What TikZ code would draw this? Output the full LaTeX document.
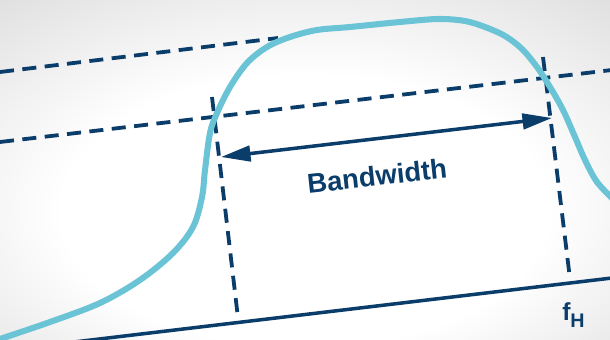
\documentclass[tikz,border=0pt]{standalone}
\usepackage{fontspec}
\setmainfont{Liberation Sans}
\usepackage{tikz}
\usetikzlibrary{arrows.meta,positioning,shapes}
\usepackage{xcolor}

\definecolor{navy}{HTML}{0B3D6B}
\definecolor{passband}{HTML}{6BC4D6}
\pgfdeclareradialshading{vignette}{\pgfpoint{0bp}{-8bp}}{color(0bp)=(white); color(20bp)=(white); color(46bp)=(black!17); color(60bp)=(black!24); color(80bp)=(black!32)}

\begin{document}
\begin{tikzpicture}[x=0.025cm, y=-0.025cm,
  every node/.style={inner sep=0pt, text=navy, font=\bfseries},
  guide/.style={navy, line width=2.7pt, dash pattern=on 10pt off 6pt},
  axis/.style={navy, line width=2.5pt},
  span/.style={navy, line width=2.5pt, {Triangle[length=21pt,width=11pt]}-{Triangle[length=21pt,width=11pt]}},
  response/.style={passband, line width=4.3pt, line cap=round}]
  \useasboundingbox (0,0) rectangle (610,340);
  \shade[shading=vignette] (0,0) rectangle (610,340);
  \clip (0,0) rectangle (610,340);

  % guide lines
  \coordinate (u1) at (0,72);
  \coordinate (u2) at (278,38);
  \coordinate (m1) at (0,142);
  \coordinate (m2) at (612,70);
  \coordinate (lt) at (212,97);
  \coordinate (lb) at (238,318);
  \coordinate (rt) at (543,57);
  \coordinate (rb) at (570,279);
  \coordinate (a1) at (74,342);
  \coordinate (a2) at (612,278);
  \coordinate (bl) at (221,157);
  \coordinate (br) at (552,118);

  \draw[guide] (u1) -- (u2);
  \draw[guide] (m1) -- (m2);
  \draw[guide] (lt) -- (lb);
  \draw[guide] (rt) -- (rb);
  \draw[axis] (a1) -- (a2);

  % response curve
  \draw[response] plot[smooth, tension=0.55] coordinates {
    (-6,341) (0,339) (50,322) (100,303) (140,280) (173,253) (193,227) (202,197)
    (205,170) (210,133) (217,113) (230,87) (247,63) (267,47) (290,37) (317,30)
    (350,27) (400,22) (438,19) (465,21) (485,27) (505,36) (522,49) (537,67)
    (550,87) (563,110) (575,137) (585,160) (597,182) (614,200)};

  \draw[span] (bl) -- (br);

  \node[rotate=6.2, font=\fontsize{19.5}{23}\selectfont\bfseries] (bw) at (377,176) {Bandwidth};
  \node[anchor=base west, font=\fontsize{17.5}{20}\selectfont\bfseries] (fh) at (562,320)
    {f\raisebox{-5pt}{\fontsize{14}{16}\selectfont H}};
\end{tikzpicture}
\end{document}
